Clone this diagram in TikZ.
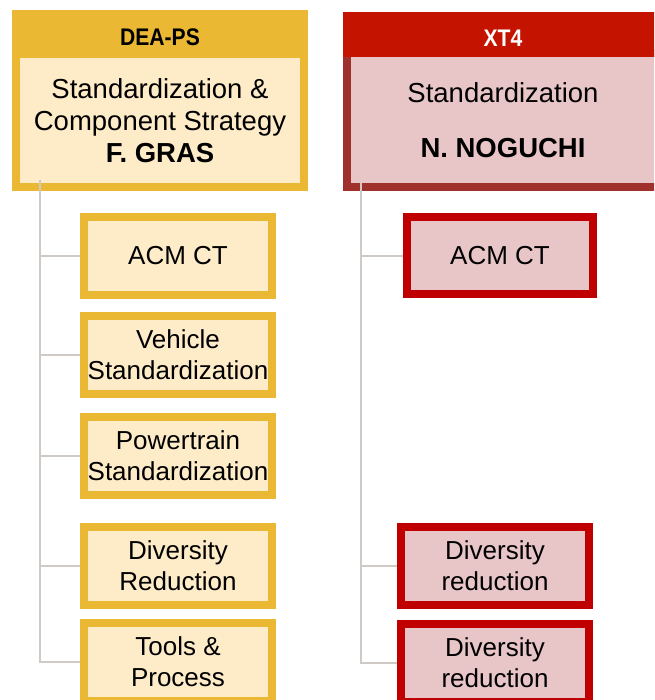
\documentclass[tikz,border=0pt]{standalone}
\usepackage{fontspec}
\setmainfont{Liberation Sans}
\newfontfamily\bannerfont[FakeStretch=0.88]{Liberation Sans Bold}
\usetikzlibrary{positioning}
\definecolor{deagold}{HTML}{EAB833}
\definecolor{dealight}{HTML}{FEEBC8}
\definecolor{xtband}{HTML}{C41400}
\definecolor{xtdark}{HTML}{A0302B}
\definecolor{xtred}{HTML}{C00000}
\definecolor{xtlight}{HTML}{E8C6C8}
\definecolor{linkgray}{HTML}{CFCAC5}

\begin{document}
\begin{tikzpicture}[x=1pt,y=-1pt,
banner/.style={
% The shape:
rectangle,
% The size:
minimum height=48pt,inner sep=0pt,
% The text sits low in the band
text height=24pt,text depth=0pt,
font=\bannerfont\fontsize{24}{28}\selectfont
},
leader/.style={
% The shape:
rectangle,inner sep=0pt,
% The border:
line width=8pt,
% Font
align=center,font=\fontsize{27.5}{32}\selectfont
},
team/.style={
% The shape:
rectangle,inner sep=0pt,
% The size:
minimum width=188pt,minimum height=78pt,
% The border:
line width=8pt,draw=deagold,fill=dealight,
% Font
align=center,font=\fontsize{26}{31}\selectfont
},
teamred/.style={team,draw=xtred,fill=xtlight},
link/.style={draw=linkgray,line width=2pt}]

\clip (0,0) rectangle (654,700);

% DEA-PS column
\node (dea) [leader,draw=deagold,fill=dealight,minimum width=288pt,minimum height=133pt]
 at (160,120.5) {Standardization \&\\Component Strategy\\\textbf{F. GRAS}};
\node (deahead) [banner,fill=deagold,minimum width=296pt] at (160,34) {DEA-PS};

\node (acm) [team] at (178,256) {ACM CT};
\node (vehicle) [team] at (178,354.5) {Vehicle\\Standardization};
\node (powertrain) [team] at (178,455.5) {Powertrain\\Standardization};
\node (divred) [team] at (178,566) {Diversity\\Reduction};
\node (tools) [team] at (178,662) {Tools \&\\Process};

% XT4 column
\node (xt) [leader,draw=xtdark,fill=xtlight,minimum width=312pt,minimum height=134pt]
 at (503,120) {Standardization\\[23pt]\textbf{N. NOGUCHI}};
\node (xthead) [banner,fill=xtband,text=white,minimum width=320pt,minimum height=45pt] at (503,34.5) {XT4};

\node (xtacm) [teamred,minimum width=186pt,minimum height=77pt] at (500,255.5) {ACM CT};
\node (xtdiv) [teamred] at (495,566) {Diversity\\reduction};
\node (xtdivb) [teamred] at (495,663) {Diversity\\reduction};

% reporting lines
\coordinate (dearoot) at (40,180);
\coordinate (xtroot) at (361,183);
\foreach \c in {acm,vehicle,powertrain,divred,tools}
 \draw[link] (dearoot) |- (\c.west);
\foreach \c in {xtacm,xtdiv,xtdivb}
 \draw[link] (xtroot) |- (\c.west);
\end{tikzpicture}
\end{document}
